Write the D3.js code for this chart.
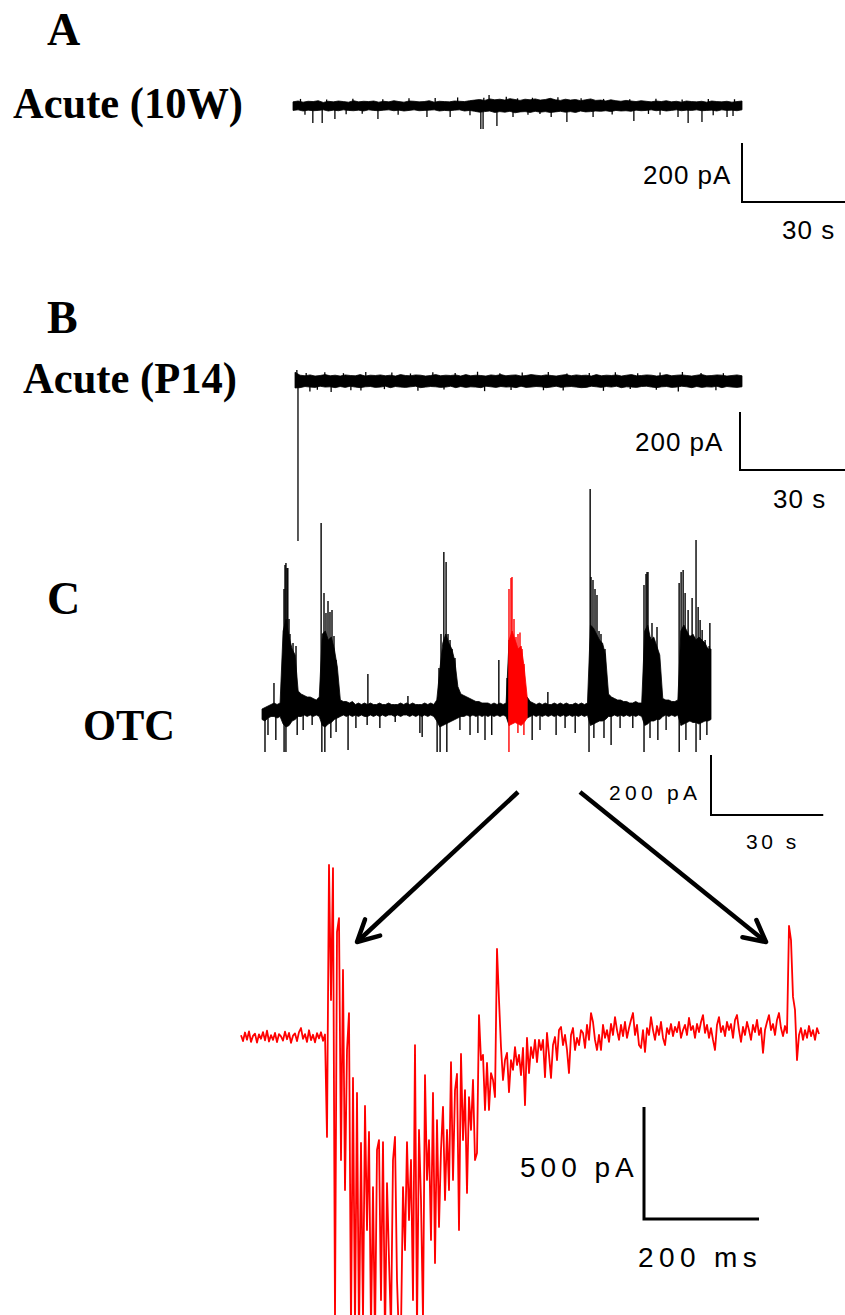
<!DOCTYPE html>
<html>
<head>
<meta charset="UTF-8">
<script src="https://d3js.org/d3.v7.min.js"></script>
<title>OTC traces</title>
<style>
    body{margin:0;background:#fff;}
    .lbl{font-family:"Liberation Serif","Times New Roman",serif;font-weight:bold;}
    .bar{font-family:"Liberation Sans",Arial,sans-serif;}
</style>
</head>
<body>
<div id="container"></div>
<script>
// ---- A : Acute (10W), 120 s survey, envelope per bin (pA) ----
var aHi=[14,17,13,16,15,18,12,16,14,17, 15,13,18,14,16,15,17,13,16,14, 18,15,13,17,16,14,15,18,13,16,
         15,14,17,16,15,18,20,22,19,24, 21,23,20,25,22,19,23,21,24,20, 22,26,21,19,23,20,22,18,21,24,
         19,20,17,21,18,16,19,17,15,18, 16,14,17,15,18,14,16,13,17,15, 14,16,13,17,15,14,16,13,15,17]
var aLo=[-15,-13,-17,-14,-16,-15,-13,-17,-14,-16, -13,-15,-16,-14,-17,-13,-15,-16,-14,-13, -16,-14,-17,-15,-13,-16,-15,-14,-13,-17,
         -15,-16,-14,-13,-17,-15,-18,-21,-19,-17, -22,-19,-21,-18,-23,-20,-19,-22,-18,-21, -19,-22,-20,-18,-21,-19,-22,-17,-20,-19,
         -17,-18,-16,-19,-15,-17,-16,-18,-14,-16, -15,-13,-16,-14,-17,-15,-13,-16,-14,-15, -13,-16,-15,-14,-17,-13,-15,-14,-16,-13]
var aSpikeT=[5.3,7.8,11.2,22.7,35.8,42.0,50.2,50.8,54.5,58.8,69.0,73.2,80.2,91.1,102.9,105.6,109.3,116.0,117.6,
             3.2,14.2,28.1,47.3,62.8,85.3,98.1,112.3,18.5,66.0,95.0, 52.4,70.8,51.0,60.0,
             2,9,16,24,31,38,44,57,64,77,83,90,97,104,111,118]
var aSpikeV=[-58,-58,-44,-44,-37,-37,-78,-78,-68,-37,-37,-54,-37,-51,-37,-58,-54,-37,-34,
             -30,-28,-30,-31,-30,-29,-30,-31,-26,-27,-27, 37,30,28,26,
             24,22,25,23,26,27,29,31,28,26,24,23,25,22,24,23]

// ---- B : Acute (P14) ----
var bHi=[30,20,18,21,17,19,22,18,20,17, 21,19,18,22,17,20,19,21,18,20, 17,22,19,18,21,20,17,19,22,18,
         20,19,21,17,22,18,20,19,17,21, 19,22,18,20,21,17,19,22,20,18, 21,19,17,20,22,18,21,19,20,17,
         22,18,20,19,21,17,20,22,18,19, 21,20,17,19,22,18,20,21,19,17, 20,22,18,19,21,20,17,19,21,18]
var bLo=[-24,-23,-19,-21,-22,-18,-21,-20,-23,-19, -22,-18,-21,-23,-20,-19,-22,-21,-18,-23, -19,-21,-22,-20,-18,-23,-21,-19,-20,-22,
         -21,-18,-23,-19,-22,-20,-21,-23,-18,-20, -22,-19,-21,-20,-23,-18,-22,-21,-19,-20, -23,-21,-18,-22,-20,-19,-21,-23,-22,-18,
         -20,-22,-19,-21,-18,-23,-20,-21,-22,-19, -18,-21,-23,-20,-19,-22,-21,-18,-20,-23, -19,-22,-20,-21,-18,-23,-19,-21,-22,-20]
var bSpikeT=[0.8,0.5,4.0,9.7,17.7,50.9,66.7,82.8,102.9,
             3,8,13,19,26,31,37,43,49,55,61,68,73,79,86,92,98,104,109,115,
             6,15,24,33,40,58,72,90,97,113]
var bSpikeV=[-552,38,-36,-38,-33,-35,-32,-34,-36,
             28,30,27,31,29,26,30,28,32,27,29,31,26,28,30,27,29,31,28,27,
             -30,-32,-28,-34,-29,-31,-33,-28,-30,-32]

// ---- C : OTC ----
var cHi=[0,5,10,15,20,15,20,260,300,240, 200,180,60,50,45,40,40,35,30,40, 250,260,230,240,200,140,30,25,25,20,
         25,15,20,15,20,15,20,15,15,20, 15,15,20,15,15,15,20,15,20,15, 20,15,15,15,20,15,20,15,30,130,
         220,250,220,200,160,75,50,45,40,35, 30,25,25,20,20,20,15,20,15,20, 15,20,230,260,230,200,210,140,40,25,
         20,15,20,15,20,15,15,20,15,20, 15,20,15,15,20,15,20,15,20,280, 270,250,230,220,180,50,40,35,30,30,
         25,25,20,20,25,20,20,260,280,230, 240,210,180,35,30,30,25,25,30,260, 280,260,240,250,230,240,230,220,200,200]
var cLo=[-35,-40,-30,-25,-25,-30,-25,-50,-60,-55, -40,-35,-25,-25,-20,-25,-20,-25,-20,-25, -55,-60,-50,-45,-35,-30,-25,-20,-25,-20,
         -25,-20,-25,-20,-25,-25,-20,-25,-20,-25, -20,-25,-20,-20,-25,-20,-25,-20,-20,-25, -20,-25,-20,-25,-20,-25,-20,-25,-40,-60,
         -55,-50,-45,-40,-35,-30,-25,-25,-20,-25, -20,-25,-20,-25,-20,-25,-20,-25,-20,-25, -20,-25,-55,-50,-45,-50,-55,-45,-30,-25,
         -20,-25,-20,-25,-20,-25,-20,-25,-20,-25, -20,-25,-20,-25,-20,-25,-20,-25,-20,-55, -50,-45,-40,-40,-35,-25,-25,-20,-25,-20,
         -25,-20,-25,-20,-25,-20,-25,-55,-50,-40, -40,-35,-35,-25,-20,-25,-20,-25,-20,-55, -50,-45,-40,-45,-45,-50,-45,-40,-40,-35]
var cSpikeT=[3.2,6.4,6.9,15.8,28.3,39.0,48.6,49.2,63.3,65.5,76.4,87.7,102.9,116.0,119.7,
             0.8,1.6,3.7,5.9,6.4,9.4,11.0,13.4,16.0,16.8,18.4,19.8,23.0,25.1,28.1,31.5,35.6,42.2,42.8,46.8,47.6,49.4,
             52.9,55.6,57.7,59.6,61.4,66.0,68.4,70.0,72.2,74.3,78.6,81.0,83.7,87.4,88.7,91.4,93.3,95.7,99.1,
             102.1,103.7,105.8,108.0,111.5,113.3,116.0,117.1,118.9,
             5.88,6.15,6.68,7.22,7.48,7.75,8.29,8.55,9.09,
             16.57,17.10,17.64,18.17,18.71,19.24,19.78,
             47.30,47.84,49.71,50.25,50.78,51.58,
             66.01,66.55,66.82,67.35,67.88,68.42,68.95,69.49,70.02,
             87.93,88.46,89.0,89.53,90.07,90.60,91.14,91.67,
             102.09,102.63,103.16,103.70,104.23,104.77,105.57,105.84,
             111.48,112.01,112.55,113.08,113.88,114.42,114.95,115.49,116.56,117.09,117.63,118.43,118.96,119.5]
var cSpikeV=[87,487,470,620,117,43,523,490,163,103,57,733,457,563,287,
             -143,-87,-103,-143,-143,-87,-70,-53,-143,-143,-97,-77,-137,-63,-53,-63,-43,-80,-93,-143,-143,-143,
             -70,-87,-80,-103,-87,-143,-80,-87,-103,-70,-87,-63,-80,-143,-97,-97,-120,-63,-63,
             -143,-97,-103,-70,-143,-103,-143,-103,-87,
             400,480,470,300,250,200,220,160,210,
             387,320,360,323,330,243,163,
             137,250,250,230,200,170,
             400,437,440,300,240,250,255,200,150,
             440,430,400,380,260,250,200,200,
             413,450,457,240,287,230,273,187,
             420,457,463,387,330,245,370,240,340,297,263,230,203,210]
var cRed=[65.9,71.0]   // seconds shown expanded below

// ---- expanded red segment (pA), ~1 s ----
var zTrace=[8,-18,20,-12,25,-22,5,15,-25,12, -8,22,-15,28,-20,8,-13,18,-23,13, 3,-16,24,-10,18,-26,6,16,-18,22,
            40,-8,13,-22,30,-14,10,-24,17,-6, 21,-17,11,
            -446,768,165,754,-1263,469,531,-549,299,-683, -58,107,-1308,-183,-1308,-250,-1353,-473,-1263,-308,
            -862,-424,-1308,-670,-1353,-504,-460,-1174,-469,-1353, -652,-995,-1308,-549,-446,-1085,-1353,-1308,-670,-951,
            -469,-817,-549,-1174,-36,-1308,-415,-728,-1263,-170, -638,-460,-906,-250,-1009,-371,-848,-504,-312,-728,
            -415,-683,-112,-638,-237,-165,-862,-76,-460,-237, -696,-268,-415,-192,-549,-518,98,-103,-80,-326,
            -116,-326,-161,-192,-268,393,165,-45,-192,-103, -71,-246,-103,-147,-45,-125,-80,-170,-49,-304,
            -4,-161,-45,-94,-13,-112,-13,-58,-13,-179, 18,-80,-183,-36,0,-103,31,45,-36,9,
            -58,-161,9,40,-58,-4,-36,31,18,-49, 54,-13,107,67,-13,-58,9,-58,54,-4,
            31,-22,58,9,89,31,-13,54,4,67, -4,40,76,107,9,54,-36,-49,31,-67,
            40,9,89,31,-13,49,9,67,-4,-36, 40,13,58,4,45,22,67,-4,31,54,
            9,85,31,49,-4,58,22,67,98,18, 54,-4,40,-13,-58,54,89,22,49,4,
            67,31,58,-4,76,98,31,-22,45,9, 67,31,-13,54,22,76,9,40,-71,31,
            67,98,31,58,9,76,107,40,4,49, 18,496,433,179,121,-103,9,40,-13,31,
            -4,49,4,31,-13,40,13]
var zDuration=1005  // ms

var panelLabels=["A","B","C"]
var traceNames=["Acute (10W)","Acute (P14)","OTC"]
var surveyBar={pA:200,s:30}
var zoomBar={pA:500,ms:200}

var black="#000", red="#ff0000"
var width=845,height=1315

var svg=d3.select('#container').append('svg')
    .attr('width',width).attr('height',height)
    .style('display','block')

// scales for each trace
var xA=d3.scaleLinear().domain([0,120]).range([293,742])
var yA=d3.scaleLinear().domain([0,200]).range([106,47])
var xB=d3.scaleLinear().domain([0,120]).range([295,742])
var yB=d3.scaleLinear().domain([0,200]).range([381,323])
var xC=d3.scaleLinear().domain([0,120]).range([262,711])
var yC=d3.scaleLinear().domain([0,200]).range([709,649])
var xZ=d3.scaleLinear().domain([0,zDuration]).range([241,819])
var yZ=d3.scaleLinear().domain([0,500]).range([1037,925])

function envelope(hi,lo,sx,sy,color,i0,i1){
    var dt=120/(hi.length-1)
    var area=d3.area()
        .x(function(i){return sx(i*dt)})
        .y0(function(i){return sy(lo[i])})
        .y1(function(i){return sy(hi[i])})
    svg.append('path')
        .attr('d',area(d3.range(i0,i1+1)))
        .attr('fill',color).attr('stroke',color).attr('stroke-width',0.8)
}

function spikes(ts,vs,sx,sy,colorFn,w){
    svg.append('g').selectAll('line')
        .data(d3.range(ts.length)).enter().append('line')
        .attr('x1',function(i){return sx(ts[i])})
        .attr('x2',function(i){return sx(ts[i])})
        .attr('y1',sy(0))
        .attr('y2',function(i){return sy(vs[i])})
        .attr('stroke',function(i){return colorFn(ts[i])})
        .attr('stroke-width',w)
}

// A
envelope(aHi,aLo,xA,yA,black,0,aHi.length-1)
spikes(aSpikeT,aSpikeV,xA,yA,function(){return black},1.3)
// B
envelope(bHi,bLo,xB,yB,black,0,bHi.length-1)
spikes(bSpikeT,bSpikeV,xB,yB,function(){return black},1.3)
// C (black parts, red excerpt)
var cDt=120/(cHi.length-1)
var r0=Math.ceil(cRed[0]/cDt), r1=Math.floor(cRed[1]/cDt)
envelope(cHi,cLo,xC,yC,black,0,r0)
envelope(cHi,cLo,xC,yC,black,r1,cHi.length-1)
envelope(cHi,cLo,xC,yC,red,r0,r1)
spikes(cSpikeT,cSpikeV,xC,yC,function(t){return (t>=cRed[0]&&t<=cRed[1])?red:black},1.4)

// expanded trace
var zDt=zDuration/(zTrace.length-1)
var line=d3.line()
    .x(function(d,i){return xZ(i*zDt)})
    .y(function(d){return yZ(d)})
svg.append('path')
    .attr('d',line(zTrace))
    .attr('fill','none').attr('stroke',red)
    .attr('stroke-width',1.8).attr('stroke-linejoin','round')

// scale bars
function scaleBar(x0,y0,sx,sy,vVal,hVal,w){
    var vLen=sy(0)-sy(vVal), hLen=sx(hVal)-sx(0)
    svg.append('path')
        .attr('d','M'+x0+','+(y0-vLen)+'L'+x0+','+y0+'L'+(x0+hLen)+','+y0)
        .attr('fill','none').attr('stroke',black).attr('stroke-width',w)
}
scaleBar(742,202,xA,yA,surveyBar.pA,surveyBar.s,2)
scaleBar(740,470,xB,yB,surveyBar.pA,surveyBar.s,2)
scaleBar(711,815,xC,yC,surveyBar.pA,surveyBar.s,2)
scaleBar(644,1219,xZ,yZ,zoomBar.pA,zoomBar.ms,3)

function barText(txt,x,y,size,spacing){
    svg.append('text').attr('class','bar')
        .attr('x',x).attr('y',y)
        .style('font-size',size+'px')
        .style('letter-spacing',spacing+'px')
        .text(txt)
}
barText(surveyBar.pA+' pA',643,184,26,1)
barText(surveyBar.s+' s',782,239,26,1)
barText(surveyBar.pA+' pA',635,451,26,1)
barText(surveyBar.s+' s',773,508,26,1)
barText(surveyBar.pA+' pA',609,800,21,4.3)
barText(surveyBar.s+' s',746,849,21,3.5)
barText(zoomBar.pA+' pA',520,1177,28,5)
barText(zoomBar.ms+' ms',638,1267,28,5.4)

// panel letters and trace names
var letterY=[45,333,614]
panelLabels.forEach(function(l,i){
    svg.append('text').attr('class','lbl')
        .attr('x',47).attr('y',letterY[i])
        .style('font-size','46px').text(l)
})
var nameX=[13,23,83], nameY=[118,393,740], nameW=[230,214,92]
traceNames.forEach(function(n,i){
    svg.append('text').attr('class','lbl')
        .attr('x',nameX[i]).attr('y',nameY[i])
        .attr('textLength',nameW[i]).attr('lengthAdjust','spacingAndGlyphs')
        .style('font-size','44px').text(n)
})

// arrows to the expanded segment
var arrows=[{x1:518,y1:792,x2:357,y2:942},{x1:580,y1:792,x2:766,y2:942}]
arrows.forEach(function(a){
    svg.append('line')
        .attr('x1',a.x1).attr('y1',a.y1).attr('x2',a.x2).attr('y2',a.y2)
        .attr('stroke',black).attr('stroke-width',4.5)
    var ang=Math.atan2(a.y1-a.y2,a.x1-a.x2), L=24, s=0.48
    var w1=[a.x2+L*Math.cos(ang+s),a.y2+L*Math.sin(ang+s)]
    var w2=[a.x2+L*Math.cos(ang-s),a.y2+L*Math.sin(ang-s)]
    svg.append('path')
        .attr('d','M'+w1+'L'+a.x2+','+a.y2+'L'+w2)
        .attr('fill','none').attr('stroke',black).attr('stroke-width',4.5)
        .attr('stroke-linecap','round').attr('stroke-linejoin','round')
})
</script>
</body>
</html>
